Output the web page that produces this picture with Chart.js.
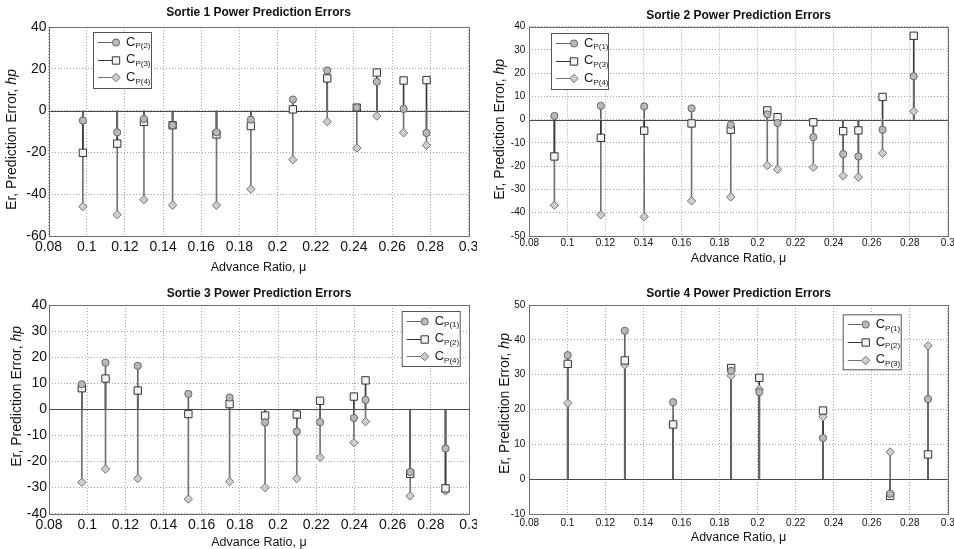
<!DOCTYPE html>
<html>
<head>
<meta charset="UTF-8">
<script src="https://cdn.jsdelivr.net/npm/chart.js"></script>
<style>
  body { margin: 0; background: #fff; }
  canvas { position: absolute; }
</style>
</head>
<body>
<canvas id="sortie1" width="477" height="275" style="left:0;top:0"></canvas>
<canvas id="sortie2" width="477" height="275" style="left:477px;top:0"></canvas>
<canvas id="sortie3" width="477" height="274" style="left:0;top:275px"></canvas>
<canvas id="sortie4" width="477" height="274" style="left:477px;top:275px"></canvas>

<script>
    // advance ratio (mu) and prediction errors (hp)
    const s1Mu  = [0.098, 0.116, 0.130, 0.145, 0.168, 0.186, 0.208, 0.226, 0.2415, 0.252, 0.266, 0.278];
    const s1Cp2 = [-4.8, -10.4, -4.0, -7.0, -10.4, -4.3, 5.3, 19.2, 1.5, 13.8, 0.8, -10.7];
    const s1Cp3 = [-20.2, -15.8, -5.4, -7.0, -11.4, -7.4, 0.6, 15.4, 1.4, 18.2, 14.4, 14.6];
    const s1Cp4 = [-45.9, -49.8, -42.6, -45.3, -45.3, -37.6, -23.5, -5.3, -17.9, -2.6, -10.6, -16.6];
    const s1Labels = ['P(2)', 'P(3)', 'P(4)'];

    const s2Mu  = [0.0932, 0.1176, 0.1404, 0.1653, 0.1859, 0.2051, 0.2105, 0.2293, 0.245, 0.253, 0.2657, 0.2821];
    const s2Cp1 = [1.6, 6.0, 5.7, 4.9, -2.2, 2.3, -1.4, -7.5, -14.8, -15.8, -4.3, 18.7];
    const s2Cp3 = [-15.8, -7.8, -4.7, -1.6, -4.3, 4.0, 1.1, -1.1, -4.9, -4.6, 9.8, 36.1];
    const s2Cp4 = [-36.8, -40.9, -41.7, -34.9, -33.2, -19.7, -21.4, -20.5, -24.1, -24.7, -14.4, 3.6];
    const s2Labels = ['P(1)', 'P(3)', 'P(4)'];

    const s3Mu  = [0.0972, 0.1096, 0.1265, 0.153, 0.1746, 0.1932, 0.2098, 0.222, 0.2397, 0.2458, 0.2692, 0.2877];
    const s3Cp1 = [9.6, 17.9, 16.7, 5.9, 4.5, -5.0, -8.5, -4.9, -3.3, 3.6, -24.0, -15.0];
    const s3Cp2 = [8.1, 11.8, 7.2, -1.8, 2.0, -2.4, -2.0, 3.3, 4.9, 11.1, -24.7, -30.3];
    const s3Cp4 = [-28.0, -22.9, -26.5, -34.4, -27.7, -30.0, -26.5, -18.4, -12.8, -4.7, -33.2, -31.3];
    const s3Labels = ['P(1)', 'P(2)', 'P(4)'];

    const s4Mu  = [0.1002, 0.1302, 0.1556, 0.1861, 0.2009, 0.2344, 0.2697, 0.2896];
    const s4Cp1 = [35.6, 42.6, 22.1, 31.1, 25.0, 11.8, -4.2, 23.0];
    const s4Cp2 = [33.1, 34.1, 15.7, 31.9, 29.1, 19.7, -4.8, 7.1];
    const s4Cp3 = [21.8, 32.8, 15.8, 29.7, 25.8, 17.9, 7.8, 38.3];
    const s4Labels = ['P(1)', 'P(2)', 'P(3)'];

    const FONT = "'Liberation Sans', Arial, Helvetica, sans-serif";

    // circle / square / diamond, like the matlab stem markers
    const styles = [
        {point: 'circle',  radius: 3.6, fill: '#b9b9b9', edge: '#666666', stem: '#646464'},
        {point: 'rect',    radius: 5.2, fill: '#f2f2f2', edge: '#333333', stem: '#363636'},
        {point: 'rectRot', radius: 4.2, fill: '#cdcdcd', edge: '#747474', stem: '#727272'}
    ];

    function fmtTick(v) {
        return parseFloat(v.toFixed(2)).toString();
    }

    function drawMarker(ctx, st, x, y) {
        ctx.beginPath();
        if (st.point === 'circle') {
            ctx.arc(x, y, st.radius, 0, Math.PI * 2);
        } else if (st.point === 'rect') {
            const h = st.radius * Math.SQRT1_2;
            ctx.rect(x - h, y - h, 2 * h, 2 * h);
        } else {
            const r = st.radius;
            ctx.moveTo(x - r, y); ctx.lineTo(x, y - r); ctx.lineTo(x + r, y); ctx.lineTo(x, y + r);
            ctx.closePath();
        }
        ctx.fillStyle = st.fill;
        ctx.fill();
        ctx.strokeStyle = st.edge;
        ctx.lineWidth = 1;
        ctx.stroke();
    }

    const decor = {
        id: 'decor',
        beforeDatasetsDraw(chart) {
            const {ctx, chartArea: a, scales: {y}} = chart;
            const y0 = Math.round(y.getPixelForValue(0)) + 0.5;
            ctx.save();
            ctx.strokeStyle = '#4a4a4a';
            ctx.lineWidth = 1;
            ctx.beginPath();
            ctx.moveTo(a.left, y0);
            ctx.lineTo(a.right, y0);
            ctx.stroke();
            ctx.restore();
        },
        afterDraw(chart, args, opts) {
            const {ctx, chartArea: a} = chart;
            ctx.save();
            // axes box
            ctx.strokeStyle = '#6e6e6e';
            ctx.lineWidth = 1;
            ctx.strokeRect(Math.round(a.left) + 0.5, Math.round(a.top) + 0.5,
                Math.round(a.right - a.left), Math.round(a.bottom - a.top));

            // y title with italic unit
            const midY = (a.top + a.bottom) / 2 + opts.yTitleDy;
            ctx.translate(opts.yTitleX, midY);
            ctx.rotate(-Math.PI / 2);
            ctx.fillStyle = '#111';
            ctx.textBaseline = 'middle';
            const part1 = 'Er, Prediction Error, ';
            const part2 = 'hp';
            ctx.font = '14px ' + FONT;
            const w1 = ctx.measureText(part1).width;
            ctx.font = 'italic 14px ' + FONT;
            const w2 = ctx.measureText(part2).width;
            const tx = -(w1 + w2) / 2;
            ctx.font = '14px ' + FONT;
            ctx.fillText(part1, tx, 0);
            ctx.font = 'italic 14px ' + FONT;
            ctx.fillText(part2, tx + w1, 0);
            ctx.setTransform(1, 0, 0, 1, 0, 0);

            // legend box
            const lg = opts.legend;
            ctx.fillStyle = '#fff';
            ctx.fillRect(lg.x, lg.y, lg.w, lg.h);
            ctx.strokeStyle = '#555';
            ctx.strokeRect(lg.x + 0.5, lg.y + 0.5, lg.w, lg.h);
            const marks = chart.data.datasets.filter(d => d.type === 'scatter');
            marks.forEach((d, i) => {
                const st = styles[i];
                const ry = lg.y + 10 + i * 17.7;
                ctx.strokeStyle = st.stem;
                ctx.lineWidth = 1;
                ctx.beginPath();
                ctx.moveTo(lg.x + 5, Math.round(ry) + 0.5);
                ctx.lineTo(lg.x + 23, Math.round(ry) + 0.5);
                ctx.stroke();
                drawMarker(ctx, st, lg.x + 23, Math.round(ry) + 0.5);
                ctx.fillStyle = '#222';
                ctx.textBaseline = 'middle';
                ctx.font = '13px ' + FONT;
                ctx.fillText('C', lg.x + 33, ry);
                const cw = ctx.measureText('C').width;
                ctx.font = '8px ' + FONT;
                ctx.fillText(d.label, lg.x + 33 + cw, ry + 4);
            });
            ctx.restore();
        }
    };

    function buildPanel(id, title, mu, series, labels, yMin, yMax, yStep, lay) {
        const datasets = [];
        series.forEach((vals, i) => {
            datasets.push({
                type: 'bar',
                data: mu.map((m, k) => ({x: m, y: vals[k]})),
                backgroundColor: styles[i].stem,
                borderWidth: 0,
                barThickness: 1,
                grouped: false,
                order: 2
            });
        });
        series.forEach((vals, i) => {
            datasets.push({
                type: 'scatter',
                label: labels[i],
                data: mu.map((m, k) => ({x: m, y: vals[k]})),
                pointStyle: styles[i].point,
                pointRadius: styles[i].radius,
                pointBackgroundColor: styles[i].fill,
                pointBorderColor: styles[i].edge,
                pointBorderWidth: 1,
                showLine: false,
                order: 1
            });
        });

        new Chart(document.getElementById(id), {
            type: 'scatter',
            data: {datasets: datasets},
            plugins: [decor],
            options: {
                responsive: false,
                animation: false,
                events: [],
                layout: {padding: {left: 0, right: lay.right, top: 0, bottom: 0}},
                plugins: {
                    legend: {display: false},
                    tooltip: {enabled: false},
                    title: {
                        display: true,
                        text: title,
                        color: '#111',
                        fullSize: false,
                        font: {family: FONT, size: 12, weight: 'bold', lineHeight: 1.2},
                        padding: {top: lay.titleTop, bottom: lay.titleBottom}
                    },
                    decor: {yTitleX: lay.yTitleX, yTitleDy: lay.yTitleDy, legend: lay.legend}
                },
                scales: {
                    x: {
                        type: 'linear',
                        min: 0.08,
                        max: 0.3,
                        offset: false,
                        afterFit: s => { s.height = lay.xHeight; s.paddingLeft = 0; s.paddingRight = 0; },
                        grid: {offset: false, color: '#a6a6a6', drawTicks: false},
                        border: {display: false, dash: [1, 2]},
                        ticks: {
                            stepSize: 0.02,
                            autoSkip: false,
                            maxRotation: 0,
                            padding: lay.xTickPad,
                            color: '#111',
                            font: {family: FONT, size: lay.tickSize},
                            callback: fmtTick
                        },
                        title: {
                            display: true,
                            text: 'Advance Ratio, \u03bc',
                            color: '#111',
                            font: {family: FONT, size: 12.5, lineHeight: 1},
                            padding: {top: 0, bottom: lay.xTitlePad}
                        }
                    },
                    y: {
                        min: yMin,
                        max: yMax,
                        afterFit: s => { s.width = lay.yWidth; },
                        grid: {color: '#a6a6a6', drawTicks: false},
                        border: {display: false, dash: [1, 2]},
                        ticks: {
                            stepSize: yStep,
                            padding: lay.yTickPad,
                            color: '#111',
                            font: {family: FONT, size: lay.tickSize},
                            callback: fmtTick
                        }
                    }
                }
            }
        });
    }

    buildPanel('sortie1', 'Sortie 1 Power Prediction Errors', s1Mu, [s1Cp2, s1Cp3, s1Cp4], s1Labels, -60, 40, 20, {
        right: 8.5, yWidth: 48.5, xHeight: 39, titleTop: 5.3, titleBottom: 7.3,
        tickSize: 14, xTickPad: 3, yTickPad: 2, xTitlePad: 1.5, yTitleX: 12, yTitleDy: 8,
        legend: {x: 93, y: 32, w: 58, h: 56}
    });
    buildPanel('sortie2', 'Sortie 2 Power Prediction Errors', s2Mu, [s2Cp1, s2Cp3, s2Cp4], s2Labels, -50, 40, 10, {
        right: 5.3, yWidth: 52.3, xHeight: 39, titleTop: 8, titleBottom: 4.3,
        tickSize: 10, xTickPad: 1, yTickPad: 4, xTitlePad: 10.5, yTitleX: 23, yTitleDy: -2,
        legend: {x: 74, y: 33, w: 57, h: 56}
    });
    buildPanel('sortie3', 'Sortie 3 Power Prediction Errors', s3Mu, [s3Cp1, s3Cp2, s3Cp4], s3Labels, -40, 40, 10, {
        right: 8, yWidth: 49, xHeight: 35.3, titleTop: 11.3, titleBottom: 4.3,
        tickSize: 14, xTickPad: 3, yTickPad: 2, xTitlePad: 0, yTitleX: 17, yTitleDy: -13,
        legend: {x: 401.7, y: 36, w: 58, h: 55}
    });
    buildPanel('sortie4', 'Sortie 4 Power Prediction Errors', s4Mu, [s4Cp1, s4Cp2, s4Cp3], s4Labels, -10, 50, 10, {
        right: 5.3, yWidth: 52.3, xHeight: 35, titleTop: 11.3, titleBottom: 4.3,
        tickSize: 10, xTickPad: 3, yTickPad: 4, xTitlePad: 5.5, yTitleX: 28, yTitleDy: -6,
        legend: {x: 365.7, y: 39.3, w: 58, h: 55}
    });
</script>
</body>
</html>
